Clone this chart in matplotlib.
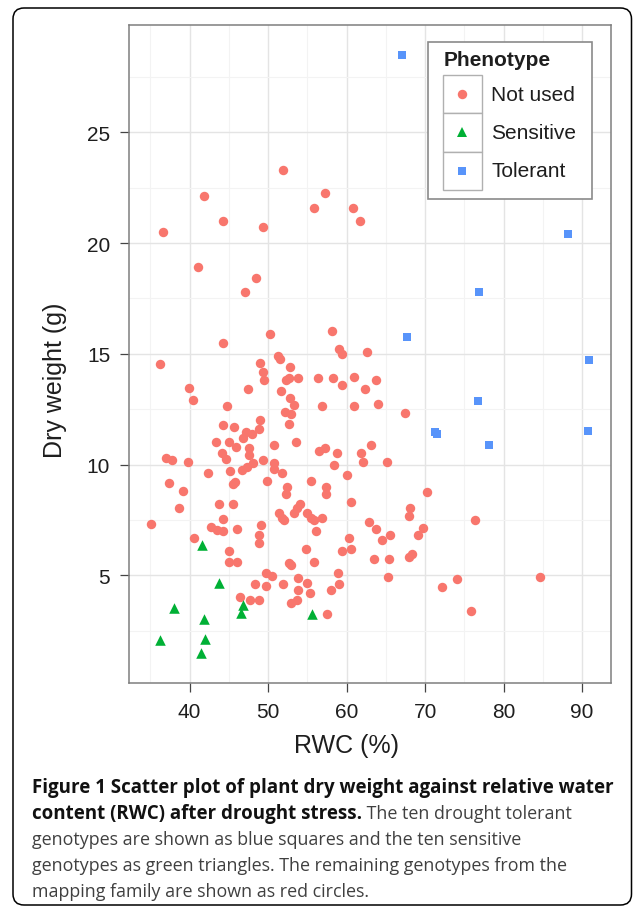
import matplotlib
matplotlib.use('Agg')
import matplotlib.pyplot as plt
from matplotlib.patches import Rectangle, FancyBboxPatch
from matplotlib.lines import Line2D
from matplotlib.transforms import IdentityTransform
from matplotlib.ticker import MultipleLocator

# genotypes not used (red circles): RWC (%), dry weight (g)
notused_rwc = [51.9, 41.8, 57.3, 55.8, 60.8, 44.2, 61.7, 49.4, 36.6, 41.1, 48.4, 47.0,
               58.2, 50.2, 44.3, 36.2, 51.3, 51.5, 59.0, 59.4, 62.6, 49.0, 52.8, 49.4,
               49.5, 52.3, 52.6, 53.8, 56.4, 58.3, 60.9, 63.7, 59.4, 62.4, 39.9, 47.4,
               51.6, 40.4, 52.8, 53.3, 44.8, 56.9, 60.9, 64.0, 52.2, 52.9, 52.6, 49.0,
               44.2, 45.7, 48.8, 48.0, 47.2, 46.8, 43.4, 45.0, 45.9, 47.5, 47.6, 50.8,
               53.5, 56.5, 57.2, 58.8, 63.1, 61.8, 62.1, 44.1, 44.6, 37.0, 37.8, 39.8,
               49.4, 48.1, 47.3, 46.7, 50.7, 50.7, 58.4, 45.2, 42.3, 51.8, 60.1, 45.8,
               45.5, 49.9, 55.4, 37.4, 52.4, 52.3, 57.4, 57.4, 39.1, 43.7, 45.5, 54.1,
               53.7, 38.7, 60.6, 51.4, 51.8, 52.0, 53.3, 55.0, 55.5, 55.8, 56.9, 44.3,
               35.1, 42.7, 43.5, 44.3, 46.0, 49.1, 62.9, 63.8, 56.1, 48.8, 48.9, 40.5,
               60.3, 60.5, 59.4, 54.8, 45.0, 45.0, 46.0, 63.5, 52.6, 52.9, 55.8, 58.9,
               49.7, 50.5, 53.8, 54.9, 51.9, 48.3, 49.7, 59.0, 58.0, 53.8, 55.3, 46.4,
               47.7, 48.8, 53.7, 52.9, 57.5,
               67.4, 65.2, 70.3, 68.1, 67.9, 76.3, 64.5, 65.5, 69.7, 69.1, 65.4, 68.0,
               68.3, 65.3, 84.7, 74.1, 72.2, 75.8]
notused_dw = [23.3, 22.1, 22.25, 21.6, 21.6, 21.0, 21.0, 20.7, 20.5, 18.9, 18.4, 17.8,
              16.05, 15.9, 15.5, 14.55, 14.9, 14.75, 15.2, 15.0, 15.07, 14.6, 14.4, 14.2,
              13.8, 13.8, 13.9, 13.9, 13.9, 13.9, 13.95, 13.8, 13.57, 13.4, 13.45, 13.4,
              13.3, 12.9, 13.0, 12.67, 12.64, 12.64, 12.64, 12.75, 12.37, 12.3, 11.85, 12.0,
              11.8, 11.7, 11.6, 11.4, 11.47, 11.2, 11.0, 11.0, 10.8, 10.75, 10.42, 10.9,
              11.0, 10.6, 10.75, 10.5, 10.9, 10.5, 10.12, 10.5, 10.27, 10.3, 10.22, 10.12,
              10.22, 10.07, 9.9, 9.74, 10.07, 9.82, 10.0, 9.7, 9.64, 9.64, 9.52, 9.22,
              9.1, 9.28, 9.28, 9.17, 9.0, 8.65, 9.0, 8.65, 8.8, 8.2, 8.2, 8.2,
              8.06, 8.02, 8.32, 7.8, 7.57, 7.5, 7.8, 7.8, 7.57, 7.5, 7.57, 7.54,
              7.3, 7.16, 7.04, 7.0, 7.07, 7.27, 7.42, 7.07, 7.0, 6.82, 6.44, 6.7,
              6.7, 6.2, 6.1, 6.2, 6.1, 5.6, 5.6, 5.72, 5.54, 5.47, 5.6, 5.12,
              5.12, 4.97, 4.86, 4.64, 4.6, 4.6, 4.52, 4.6, 4.34, 4.34, 4.22, 4.04,
              3.89, 3.89, 3.89, 3.74, 3.24,
              12.33, 10.1, 8.77, 8.02, 7.67, 7.5, 6.6, 6.8, 7.12, 6.82, 5.72, 5.84,
              5.95, 4.94, 4.94, 4.83, 4.49, 3.39]

# drought sensitive genotypes (green triangles)
sensitive_rwc = [41.6, 43.7, 38.0, 46.8, 46.6, 41.8, 55.6, 36.2, 42.0, 41.5]
sensitive_dw = [6.37, 4.64, 3.54, 3.66, 3.32, 3.03, 3.26, 2.06, 2.13, 1.49]

# drought tolerant genotypes (blue squares)
tolerant_rwc = [67.1, 88.2, 76.9, 67.7, 90.9, 76.7, 71.3, 71.5, 78.2, 90.8]
tolerant_dw = [28.49, 20.41, 17.77, 15.74, 14.74, 12.85, 11.47, 11.40, 10.9, 11.5]

groups = ['Not used', 'Sensitive', 'Tolerant']
colors = ['#F8766D', '#00B035', '#5894FA']

W, H = 633, 912
fig = plt.figure(figsize=(W / 100, H / 100), dpi=100)
fig.patch.set_facecolor('white')

# panel, placed in pixels
left, right, top, bottom = 129.3, 611.0, 26.0, 684.0
ax = fig.add_axes([left / W, 1 - bottom / H, (right - left) / W, (bottom - top) / H])

ax.scatter(notused_rwc, notused_dw, s=6.8 ** 2, marker='o', color=colors[0],
           linewidths=0, zorder=3)
ax.scatter(sensitive_rwc, sensitive_dw, s=7.6 ** 2, marker='^', color=colors[1],
           linewidths=0, zorder=3)
ax.scatter(tolerant_rwc, tolerant_dw, s=6.4 ** 2, marker='s', color=colors[2],
           linewidths=0, zorder=3)

# ggplot style 5% expansion
all_x = notused_rwc + sensitive_rwc + tolerant_rwc
all_y = notused_dw + sensitive_dw + tolerant_dw
dx = (max(all_x) - min(all_x)) * 0.05
dy = (max(all_y) - min(all_y)) * 0.05
ax.set_xlim(min(all_x) - dx, max(all_x) + dx)
ax.set_ylim(min(all_y) - dy, max(all_y) + dy)

ax.xaxis.set_major_locator(MultipleLocator(10))
ax.xaxis.set_minor_locator(MultipleLocator(5))
ax.yaxis.set_major_locator(MultipleLocator(5))
ax.yaxis.set_minor_locator(MultipleLocator(2.5))
ax.set_xticks([40, 50, 60, 70, 80, 90])
ax.set_yticks([5, 10, 15, 20, 25])

ax.grid(which='major', color='#e4e4e4', linewidth=1.0, zorder=0)
ax.grid(which='minor', color='#f3f3f3', linewidth=0.8, zorder=0)
ax.set_axisbelow(True)

for sp in ax.spines.values():
    sp.set_color('#7f7f7f')
    sp.set_linewidth(1.1)
    sp.set_zorder(4)

ax.tick_params(which='major', direction='out', length=6.8, width=0.9, color='#444444',
               pad=7, labelsize=15, labelcolor='#1e1e1e')
ax.tick_params(which='minor', length=0)
for lab in ax.get_xticklabels() + ax.get_yticklabels():
    lab.set_fontfamily('Liberation Sans')

# axis titles
fig.text(346 / W, 1 - 746 / H, 'RWC (%)', ha='center', va='center', fontsize=18,
         family='Liberation Sans', color='#1e1e1e')
fig.text(55 / W, 1 - 380 / H, 'Dry weight (g)', ha='center', va='center', fontsize=18,
         rotation=90, family='Liberation Sans', color='#1e1e1e')

# legend drawn ggplot-like with key boxes
ident = IdentityTransform()
fig.add_artist(Rectangle((427.7, H - 200), 164.6, 156.7, transform=ident,
                         facecolor='white', edgecolor='#8a8a8a', linewidth=1.2, zorder=5))
fig.text(444 / W, 1 - 60 / H, 'Phenotype', ha='left', va='center', fontsize=15,
         fontweight='bold', family='Liberation Sans', color='#1e1e1e', zorder=6)
markers = ['o', '^', 's']
msizes = [6.8, 7.6, 6.4]
row_top = 76.0
row_h = 38.3
for i, g in enumerate(groups):
    y0 = row_top + i * row_h
    fig.add_artist(Rectangle((442.7, H - y0 - row_h), 39, row_h, transform=ident,
                             facecolor='white', edgecolor='#b0b0b0', linewidth=1.0, zorder=6))
    fig.add_artist(Line2D([462.2], [H - y0 - row_h / 2], transform=ident, marker=markers[i],
                          markersize=msizes[i], color=colors[i], linestyle='none',
                          markeredgewidth=0, zorder=7))
    fig.text(491 / W, 1 - (y0 + row_h / 2) / H, g, ha='left', va='center', fontsize=15,
             family='Liberation Sans', color='#1e1e1e', zorder=7)

# outer rounded frame
fig.add_artist(FancyBboxPatch((13, H - 906), 618.5, 897, transform=ident,
                              boxstyle='round,pad=0,rounding_size=11', facecolor='none',
                              edgecolor='black', linewidth=1.1, zorder=8))

# caption
cap_font = 'Open Sans'
bold_lines = ['Figure 1 Scatter plot of plant dry weight against relative water',
              'content (RWC) after drought stress.']
reg_lines = [' The ten drought tolerant',
             'genotypes are shown as blue squares and the ten sensitive',
             'genotypes as green triangles. The remaining genotypes from the',
             'mapping family are shown as red circles.']
baselines = [793, 819, 845, 871, 897]
x_text = 31.5

renderer = fig.canvas.get_renderer()
probe = fig.text(0, 0, bold_lines[0], fontsize=12, fontweight='bold', family=cap_font)
w12 = probe.get_window_extent(renderer).width
probe.remove()
cap_size = 12 * (615 - x_text) / w12
reg_size = cap_size * 0.95

t1 = fig.text(x_text / W, 1 - baselines[0] / H, bold_lines[0], fontsize=cap_size,
              fontweight='bold', family=cap_font, va='baseline', color='#111111')
t2 = fig.text(x_text / W, 1 - baselines[1] / H, bold_lines[1], fontsize=cap_size,
              fontweight='bold', family=cap_font, va='baseline', color='#111111')
x_end = t2.get_window_extent(renderer).x1
fig.text(x_end / W, 1 - baselines[1] / H, reg_lines[0], fontsize=reg_size,
         family=cap_font, va='baseline', color='#404040')
for line, b in zip(reg_lines[1:], baselines[2:]):
    fig.text(x_text / W, 1 - b / H, line, fontsize=reg_size, family=cap_font,
             va='baseline', color='#404040')

fig.savefig('out.png', dpi=100)
